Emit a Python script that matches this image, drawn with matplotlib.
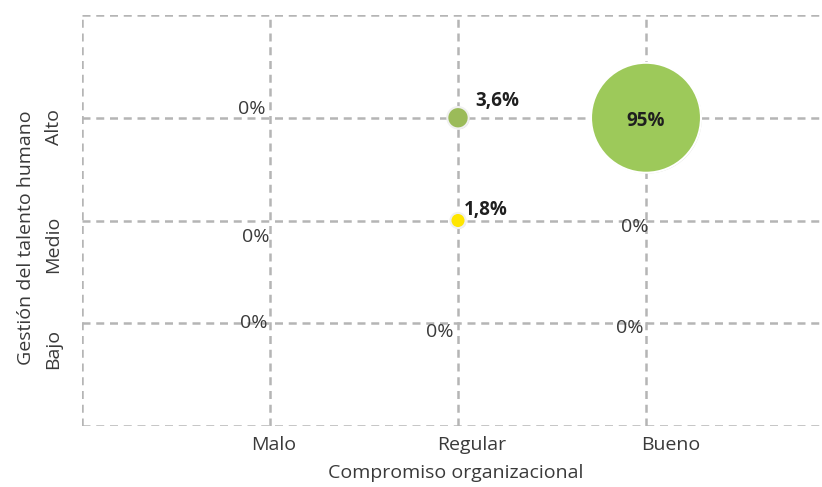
import matplotlib
matplotlib.use("Agg")
import matplotlib.pyplot as plt
import matplotlib.patheffects as pe
import matplotlib.transforms as mtransforms

# ---- data ----
x_categories = ["Malo", "Regular", "Bueno"]
y_categories = ["Bajo", "Medio", "Alto"]
# percentages: one entry per (x, y) cell
point_x = ["Malo", "Malo", "Malo", "Regular", "Regular", "Regular", "Bueno", "Bueno", "Bueno"]
point_y = ["Bajo", "Medio", "Alto", "Bajo", "Medio", "Alto", "Bajo", "Medio", "Alto"]
point_values = [0, 0, 0, 0, 1.8, 3.6, 0, 0, 95]
x_title = "Compromiso organizacional"
y_title = "Gestión del talento humano"

# ---- style ----
point_colors = ["#9bbb59", "#9bbb59", "#9bbb59", "#9bbb59", "#ffe600", "#9bbb59", "#9bbb59", "#9bbb59", "#9dc95a"]
# label offsets in pixels (dx, dy up)
label_offsets = [(-16, 0), (-14, -16), (-18, 9), (-18, -9), (28, 10), (39, 17), (-16, -5), (-11, -6), (0, -3)]
xtick_shift_px = [4, 14, 25]
ytick_shift_px = [-26, -24, -9]

plt.rcParams['font.family'] = ['Open Sans', 'DejaVu Sans']
FS = 14

W, H = 822, 487
fig = plt.figure(figsize=(W / 100, H / 100), dpi=100)
x0, x4 = 82, 834
y0, y4 = 426, 15
ax = fig.add_axes([x0 / W, (H - y0) / H, (x4 - x0) / W, (y0 - y4) / H])
ax.set_xlim(0, 4)
ax.set_ylim(0, 4)

for s in ax.spines.values():
    s.set_visible(False)

grid_kw = dict(color="#b5b5b5", lw=1.8, ls=(0, (3.2, 2.3)), zorder=1)
for v in range(0, 5):
    ax.axvline(v, **grid_kw)
    ax.axhline(v, **grid_kw)

xi = [x_categories.index(c) + 1 for c in point_x]
yi = [y_categories.index(c) + 1 for c in point_y]

px_per_pt = 100 / 72
max_diam_px = 110
sizes = []
for v in point_values:
    d = max_diam_px * (v / max(point_values)) ** 0.5
    sizes.append((d / px_per_pt) ** 2)

for x, y, v, s, c in zip(xi, yi, point_values, sizes, point_colors):
    if v <= 0:
        continue
    ec = "white" if v > 50 else "#f0f0f0"
    ax.scatter([x], [y], s=s, c=c, edgecolors=ec, linewidths=1.5, zorder=3,
               path_effects=[pe.SimplePatchShadow(offset=(0.6, -0.6), alpha=0.18), pe.Normal()])

for x, y, v, (dx, dy) in zip(xi, yi, point_values, label_offsets):
    txt = (f"{v:g}".replace(".", ",")) + "%"
    ax.annotate(txt, (x, y), xytext=(dx / px_per_pt, dy / px_per_pt), textcoords="offset points",
                ha="center", va="center", fontsize=FS - 0.5 if v > 0 else FS,
                fontweight="bold" if v > 0 else "normal",
                color="#1f1f1f" if v > 0 else "#3a3a3a", zorder=4)

ax.set_xticks(range(1, 4))
ax.set_xticklabels(x_categories, fontsize=FS, color="#3a3a3a")
ax.set_yticks(range(1, 4))
ax.set_yticklabels(y_categories, fontsize=FS, color="#3a3a3a", rotation=90, va="center")
ax.tick_params(length=0)
ax.tick_params(axis="x", pad=7)
ax.tick_params(axis="y", pad=14)
for lab, sh in zip(ax.get_xticklabels(), xtick_shift_px):
    lab.set_transform(lab.get_transform() + mtransforms.Affine2D().translate(sh, 0))
for lab, sh in zip(ax.get_yticklabels(), ytick_shift_px):
    lab.set_transform(lab.get_transform() + mtransforms.Affine2D().translate(0, sh))

fig.text(456 / W, 1 - 473 / H, x_title, ha="center", va="center", fontsize=FS, color="#3a3a3a")
fig.text(26 / W, 1 - 238 / H, y_title, ha="center", va="center", rotation=90, fontsize=FS, color="#3a3a3a")

fig.savefig("out.png", dpi=100)
